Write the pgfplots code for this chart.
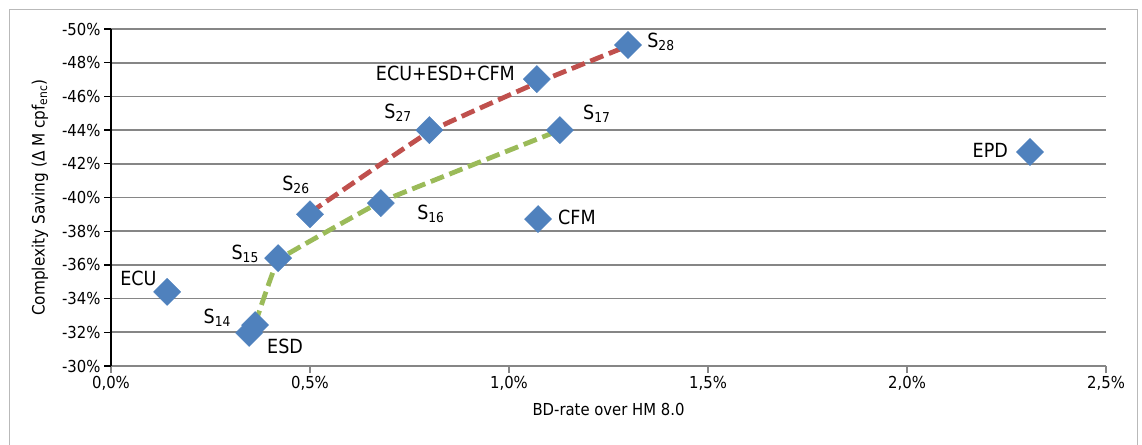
\documentclass[border=0pt]{standalone}
\usepackage{fontspec}
\setmainfont{DejaVu Sans Condensed}
\usepackage{pgfplots}
\pgfplotsset{compat=1.18}
\definecolor{ser}{HTML}{4F81BD}
\definecolor{redl}{HTML}{C0504D}
\definecolor{greenl}{HTML}{9BBB59}
\definecolor{gridc}{RGB}{134,134,134}
\begin{document}
\begin{tikzpicture}[x=1pt,y=1pt]
\path[use as bounding box] (0,0) rectangle (1142,444);
\draw[gray!55, line width=1.5pt] (9.5,-5) -- (9.5,434.5) -- (1137.5,434.5) -- (1137.5,-5);
\begin{axis}[at={(111pt,78pt)}, anchor=south west, scale only axis,
  width=995pt, height=337pt,
  xmin=0, xmax=2.5, ymin=-50, ymax=-30, y dir=reverse,
  axis line style={draw=none},
  tick align=outside,
  xtick={0,0.5,1,1.5,2,2.5},
  xticklabels={{0,0\%},{0,5\%},{1,0\%},{1,5\%},{2,0\%},{2,5\%}},
  ytick={-50,-48,-46,-44,-42,-40,-38,-36,-34,-32,-30},
  yticklabels={-50\%,-48\%,-46\%,-44\%,-42\%,-40\%,-38\%,-36\%,-34\%,-32\%,-30\%},
  xtick pos=left, ytick pos=left,
  major tick length=7pt,
  xtick style={gridc, line width=1.3pt},
  ytick style={black, line width=1.3pt},
  ymajorgrids, grid style={gridc, line width=1.7pt},
  tick label style={font=\fontsize{16.5}{18}\selectfont},
  xlabel={BD-rate over HM 8.0},
  ylabel={Complexity Saving (Δ M cpf\textsubscript{enc})},
  xlabel style={at={(axis description cs:0.5,-0.13)}, anchor=center, font=\fontsize{16.5}{18}\selectfont},
  ylabel style={at={(axis description cs:-0.0714,0.5)}, anchor=center, font=\fontsize{17}{18}\selectfont},
  clip=false,
]
\draw[gridc, line width=2pt] (axis description cs:0,0) -- (axis description cs:1,0);
\draw[black, line width=2pt] (axis description cs:0,0) -- (axis description cs:0,1);
\addplot[only marks, mark=square*, mark size=9.6pt, mark options={rotate=45, fill=ser, draw=ser}] coordinates {
 (0.141,-34.4) (0.347,-31.96) (0.362,-32.43) (0.42,-36.4) (0.50,-39.0) (0.678,-39.67)
 (0.80,-44.0) (1.073,-38.72) (1.07,-47.03) (1.128,-44.0) (1.299,-49.05) (2.309,-42.7)
};
\addplot[redl, line width=4.8pt, dash pattern=on 14pt off 6pt, smooth, tension=0.2] coordinates {
 (0.50,-39.1) (0.80,-43.9) (1.07,-46.8) (1.299,-49.0)
};
\addplot[greenl, line width=4.8pt, dash pattern=on 14pt off 6pt, smooth, tension=0.08] coordinates {
 (0.362,-32.5) (0.42,-36.3) (0.678,-39.75) (1.128,-44.0)
};
\begin{scope}[every node/.style={font=\fontsize{19.5}{21}\selectfont, inner sep=0pt}]
\node[anchor=west] at (axis cs:1.347,-49.23) {S\textsubscript{28}};
\node[anchor=east] at (axis cs:1.015,-47.39) {ECU+ESD+CFM};
\node[anchor=east] at (axis cs:0.756,-45.01) {S\textsubscript{27}};
\node[anchor=west] at (axis cs:1.186,-44.96) {S\textsubscript{17}};
\node[anchor=east] at (axis cs:2.254,-42.82) {EPD};
\node[anchor=west] at (axis cs:0.430,-40.74) {S\textsubscript{26}};
\node[anchor=west] at (axis cs:0.769,-39.02) {S\textsubscript{16}};
\node[anchor=west] at (axis cs:1.123,-38.84) {CFM};
\node[anchor=east] at (axis cs:0.372,-36.65) {S\textsubscript{15}};
\node[anchor=west] at (axis cs:0.023,-35.22) {ECU};
\node[anchor=east] at (axis cs:0.302,-32.85) {S\textsubscript{14}};
\node[anchor=west] at (axis cs:0.392,-31.19) {ESD};
\end{scope}
\end{axis}
\end{tikzpicture}
\end{document}
